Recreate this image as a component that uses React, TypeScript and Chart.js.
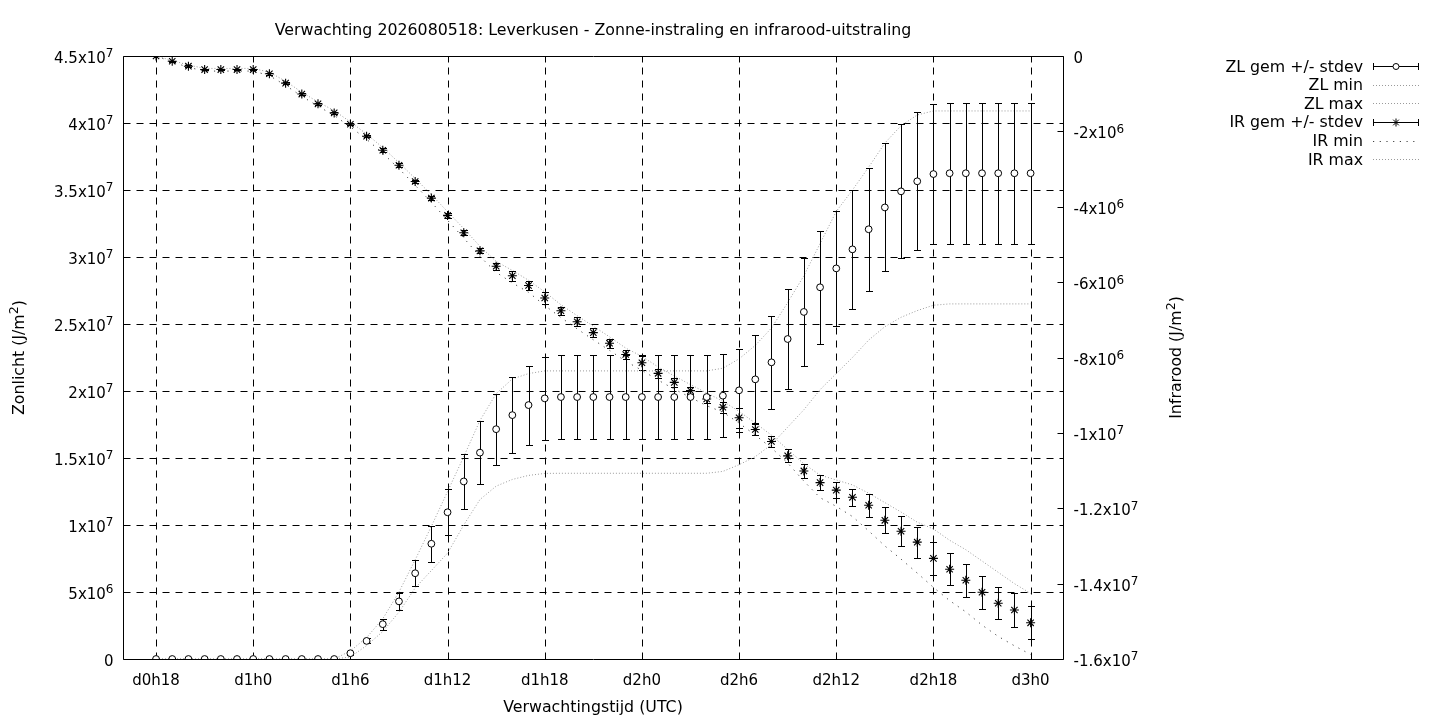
import React, { useEffect, useRef } from 'react';
import { Chart, registerables } from 'chart.js';

Chart.register(...registerables);

// Hours after d0h18 (one forecast step per hour)
const hours = Array.from({ length: 55 }, (_, i) => i);

const xTickValues = [0, 6, 12, 18, 24, 30, 36, 42, 48, 54];
const xTickLabels = ['d0h18', 'd1h0', 'd1h6', 'd1h12', 'd1h18', 'd2h0', 'd2h6', 'd2h12', 'd2h18', 'd3h0'];

// Left axis in units of 10^6 J/m²
const yTickValues = [0, 5, 10, 15, 20, 25, 30, 35, 40, 45];
const yTickLabels = ['0', '5x10⁶', '1x10⁷', '1.5x10⁷', '2x10⁷', '2.5x10⁷', '3x10⁷', '3.5x10⁷', '4x10⁷', '4.5x10⁷'];

// Right axis in units of 10^6 J/m²
const y2TickValues = [0, -2, -4, -6, -8, -10, -12, -14, -16];
const y2TickLabels = ['0', '-2x10⁶', '-4x10⁶', '-6x10⁶', '-8x10⁶', '-1x10⁷', '-1.2x10⁷', '-1.4x10⁷', '-1.6x10⁷'];

// Zonlicht (10^6 J/m²)
const zlMean = [
  0, 0, 0, 0, 0, 0, 0, 0, 0, 0, 0, 0,
  0.43, 1.35, 2.6, 4.3, 6.4, 8.6, 10.95, 13.25, 15.4, 17.15, 18.2, 18.95, 19.45,
  19.55, 19.55, 19.55, 19.55, 19.55, 19.55, 19.55, 19.55, 19.55, 19.55,
  19.65, 20.05, 20.87, 22.14, 23.88, 25.9, 27.74, 29.15, 30.57, 32.07, 33.7, 34.9, 35.65, 36.19,
  36.25, 36.25, 36.25, 36.25, 36.25, 36.25,
];
const zlStdev = [
  0, 0, 0, 0, 0, 0, 0, 0, 0, 0, 0, 0,
  0.1, 0.18, 0.4, 0.65, 0.97, 1.33, 1.72, 2.05, 2.34, 2.65, 2.84, 2.95, 3.08,
  3.1, 3.1, 3.1, 3.1, 3.1, 3.1, 3.1, 3.1, 3.1, 3.1,
  3.08, 3.12, 3.28, 3.48, 3.73, 4.03, 4.2, 4.3, 4.45, 4.6, 4.78, 5.0, 5.16, 5.22,
  5.25, 5.25, 5.25, 5.25, 5.25, 5.25,
];
const zlMin = [
  0, 0, 0, 0, 0, 0, 0, 0, 0, 0, 0, 0,
  0.15, 1.0, 2.05, 3.5, 5.3, 6.6, 7.9, 10.0, 11.9, 12.9, 13.4, 13.7, 13.85,
  13.86, 13.86, 13.86, 13.86, 13.86, 13.86, 13.86, 13.86, 13.86, 13.86,
  14.0, 14.5, 15.1, 16.0, 17.3, 18.6, 20.1, 21.3, 22.5, 23.8, 24.8, 25.5, 26.0, 26.4,
  26.5, 26.5, 26.5, 26.5, 26.5, 26.5,
];
const zlMax = [
  0, 0, 0, 0, 0, 0, 0, 0, 0, 0, 0, 0,
  0.6, 1.6, 3.0, 5.0, 7.4, 9.9, 12.5, 15.1, 17.8, 19.8, 20.9, 21.3, 21.5,
  21.5, 21.5, 21.5, 21.5, 21.5, 21.5, 21.5, 21.5, 21.5, 21.5,
  21.7, 22.4, 23.4, 24.7, 26.6, 28.6, 31.0, 33.4, 35.0, 36.7, 38.5, 39.8, 40.6, 40.9,
  40.9, 40.9, 40.9, 40.9, 40.9, 40.9,
];

// Infrarood (10^6 J/m²)
const irMean = [
  0, -0.14, -0.27, -0.36, -0.36, -0.36, -0.36, -0.47, -0.72, -1.01,
  -1.27, -1.51, -1.81, -2.13, -2.5, -2.9, -3.33, -3.77, -4.23, -4.69,
  -5.17, -5.58, -5.83, -6.09, -6.42, -6.76, -7.05, -7.34, -7.62, -7.92,
  -8.14, -8.42, -8.66, -8.88, -9.1, -9.32, -9.6, -9.91, -10.23, -10.61,
  -11.01, -11.32, -11.52, -11.71, -11.92, -12.32, -12.61, -12.9, -13.33, -13.62,
  -13.91, -14.23, -14.52, -14.7, -15.04,
];
const irStdev = [
  0, 0.02, 0.02, 0.02, 0.02, 0.02, 0.02, 0.03, 0.03, 0.03,
  0.03, 0.03, 0.03, 0.03, 0.05, 0.05, 0.05, 0.05, 0.07, 0.07,
  0.07, 0.1, 0.13, 0.11, 0.15, 0.11, 0.12, 0.12, 0.12, 0.12,
  0.18, 0.12, 0.12, 0.1, 0.11, 0.15, 0.27, 0.15, 0.15, 0.17,
  0.19, 0.19, 0.22, 0.23, 0.3, 0.34, 0.4, 0.41, 0.43, 0.42,
  0.44, 0.44, 0.43, 0.44, 0.44,
];
const irMin = [
  0, -0.16, -0.3, -0.4, -0.4, -0.4, -0.4, -0.52, -0.78, -1.07,
  -1.33, -1.58, -1.88, -2.21, -2.58, -2.99, -3.43, -3.88, -4.36, -4.83,
  -5.32, -5.74, -6.02, -6.27, -6.62, -6.94, -7.24, -7.53, -7.81, -8.1,
  -8.34, -8.6, -8.84, -9.06, -9.28, -9.45, -9.74, -10.06, -10.4, -10.8,
  -11.28, -11.72, -11.95, -12.22, -12.6, -13.0, -13.35, -13.72, -14.1, -14.45,
  -14.75, -15.1, -15.4, -15.65, -15.88,
];
const irMax = [
  0, -0.12, -0.24, -0.33, -0.33, -0.33, -0.33, -0.43, -0.67, -0.96,
  -1.22, -1.45, -1.75, -2.07, -2.43, -2.83, -3.25, -3.68, -4.13, -4.58,
  -5.05, -5.45, -5.69, -5.95, -6.26, -6.6, -6.89, -7.17, -7.45, -7.75,
  -7.97, -8.25, -8.49, -8.72, -8.94, -9.16, -9.43, -9.74, -10.06, -10.44,
  -10.82, -11.12, -11.25, -11.38, -11.6, -11.85, -12.1, -12.37, -12.55, -12.85,
  -13.1, -13.4, -13.7, -14.0, -14.26,
];

const TITLE = 'Verwachting 2026080518: Leverkusen - Zonne-instraling en infrarood-uitstraling';
const X_TITLE = 'Verwachtingstijd (UTC)';
const Y_TITLE = 'Zonlicht (J/m²)';
const Y2_TITLE = 'Infrarood (J/m²)';

const FAMILY = '"DejaVu Sans"';
const TICK_SIZE = 15;
const LABEL_SIZE = 15.8;
const LIGHT_DOT = '#9a9a9a';
const DARK_DOT = '#444444';
const LIGHT_DASH = [1, 2];
const DARK_DASH = [1.2, 5.5];

const SUP: Record<string, string> = {
  '⁰': '0', '¹': '1', '²': '2', '³': '3', '⁴': '4', '⁵': '5', '⁶': '6', '⁷': '7', '⁸': '8', '⁹': '9',
};

const toPoints = (vals: number[]) => hours.map((h, i) => ({ x: h, y: vals[i] }));

// Draw text with real superscripts (gnuplot enhanced-text look); y is the baseline.
function drawRich(ctx: CanvasRenderingContext2D, text: string, x: number, y: number, align: 'left' | 'right' | 'center', size: number) {
  const runs: { t: string; sup: boolean }[] = [];
  for (const ch of text) {
    const sup = ch in SUP;
    const c = sup ? SUP[ch] : ch;
    const last = runs[runs.length - 1];
    if (last && last.sup === sup) last.t += c;
    else runs.push({ t: c, sup });
  }
  const supSize = size * 0.8;
  const widths = runs.map((r) => {
    ctx.font = `${r.sup ? supSize : size}px ${FAMILY}`;
    return ctx.measureText(r.t).width;
  });
  const total = widths.reduce((a, b) => a + b, 0);
  let cx = align === 'right' ? x - total : align === 'center' ? x - total / 2 : x;
  ctx.textAlign = 'left';
  ctx.textBaseline = 'alphabetic';
  runs.forEach((r, i) => {
    ctx.font = `${r.sup ? supSize : size}px ${FAMILY}`;
    ctx.fillText(r.t, cx, r.sup ? y - size * 0.37 : y);
    cx += widths[i];
  });
}

const framePlugin = {
  id: 'gnuFrame',
  beforeDatasetsDraw(chart: any) {
    const { ctx, chartArea: a, scales } = chart;
    const L = Math.round(a.left) + 0.5;
    const R = Math.round(a.right) + 0.5;
    const T = Math.round(a.top) + 0.5;
    const B = Math.round(a.bottom) + 0.5;
    ctx.save();
    ctx.strokeStyle = '#000';
    ctx.lineWidth = 1;
    ctx.setLineDash([7, 6]);
    for (const v of xTickValues) {
      const px = Math.round(scales.x.getPixelForValue(v)) + 0.5;
      ctx.beginPath();
      ctx.moveTo(px, B);
      ctx.lineTo(px, T);
      ctx.stroke();
    }
    for (const v of yTickValues) {
      const py = Math.round(scales.y.getPixelForValue(v)) + 0.5;
      if (py <= T + 1 || py >= B - 1) continue;
      ctx.beginPath();
      ctx.moveTo(L, py);
      ctx.lineTo(R, py);
      ctx.stroke();
    }
    ctx.setLineDash([]);
    ctx.beginPath();
    ctx.rect(L, T, R - L, B - T);
    ctx.stroke();
    const tl = 6;
    ctx.beginPath();
    for (const v of xTickValues) {
      const px = Math.round(scales.x.getPixelForValue(v)) + 0.5;
      ctx.moveTo(px, B); ctx.lineTo(px, B - tl);
      ctx.moveTo(px, T); ctx.lineTo(px, T + tl);
    }
    for (const v of yTickValues) {
      const py = Math.round(scales.y.getPixelForValue(v)) + 0.5;
      ctx.moveTo(L, py); ctx.lineTo(L + tl, py);
    }
    for (const v of y2TickValues) {
      const py = Math.round(scales.y2.getPixelForValue(v)) + 0.5;
      ctx.moveTo(R, py); ctx.lineTo(R - tl, py);
    }
    ctx.stroke();
    ctx.restore();
  },
};

const errorBarPlugin = {
  id: 'gnuErrorBars',
  beforeDatasetDraw(chart: any, args: any) {
    const ds = chart.data.datasets[args.index];
    if (!ds.errors) return;
    const { ctx, chartArea: a } = chart;
    const xs = chart.scales.x;
    const ys = chart.scales[ds.yAxisID];
    ctx.save();
    ctx.beginPath();
    ctx.rect(a.left, a.top, a.right - a.left + 1, a.bottom - a.top + 1);
    ctx.clip();
    ctx.strokeStyle = '#000';
    ctx.lineWidth = 1;
    ctx.beginPath();
    ds.data.forEach((p: any, i: number) => {
      const e = ds.errors[i];
      if (!e) return;
      const px = Math.round(xs.getPixelForValue(p.x)) + 0.5;
      const top = Math.round(ys.getPixelForValue(p.y + e)) + 0.5;
      const bot = Math.round(ys.getPixelForValue(p.y - e)) + 0.5;
      ctx.moveTo(px, top); ctx.lineTo(px, bot);
      ctx.moveTo(px - 3.5, top); ctx.lineTo(px + 3.5, top);
      ctx.moveTo(px - 3.5, bot); ctx.lineTo(px + 3.5, bot);
    });
    ctx.stroke();
    ctx.restore();
  },
};

const textPlugin = {
  id: 'gnuTexts',
  afterDraw(chart: any) {
    const { ctx, chartArea: a, scales } = chart;
    const cx = (a.left + a.right) / 2;
    const cy = (a.top + a.bottom) / 2;
    ctx.save();
    ctx.fillStyle = '#000';

    // tick labels
    xTickValues.forEach((v, i) => {
      drawRich(ctx, xTickLabels[i], scales.x.getPixelForValue(v), 684.5, 'center', TICK_SIZE);
    });
    yTickValues.forEach((v, i) => {
      drawRich(ctx, yTickLabels[i], 113.5, scales.y.getPixelForValue(v) + 7, 'right', TICK_SIZE);
    });
    y2TickValues.forEach((v, i) => {
      drawRich(ctx, y2TickLabels[i], 1073.5, scales.y2.getPixelForValue(v) + 7, 'left', TICK_SIZE);
    });

    // titles
    drawRich(ctx, TITLE, cx, 34.5, 'center', LABEL_SIZE);
    drawRich(ctx, X_TITLE, cx, 711.5, 'center', LABEL_SIZE);
    ctx.save();
    ctx.translate(18.5, cy);
    ctx.rotate(-Math.PI / 2);
    drawRich(ctx, Y_TITLE, 0, 5.5, 'center', LABEL_SIZE);
    ctx.restore();
    ctx.save();
    ctx.translate(1175.5, cy);
    ctx.rotate(-Math.PI / 2);
    drawRich(ctx, Y2_TITLE, 0, 5.5, 'center', LABEL_SIZE);
    ctx.restore();

    // legend
    const textRight = 1363;
    const s0 = 1373;
    const s1 = 1419;
    const rowY = [66, 84.5, 103, 121.5, 140.5, 159];
    chart.data.datasets.forEach((ds: any, i: number) => {
      const y = rowY[i];
      ctx.fillStyle = '#000';
      drawRich(ctx, ds.label, textRight, y + 5.5, 'right', LABEL_SIZE);
      const yy = Math.round(y) + 0.5;
      if (ds.errors) {
        ctx.strokeStyle = '#000';
        ctx.lineWidth = 1;
        ctx.setLineDash([]);
        ctx.beginPath();
        ctx.moveTo(s0, yy); ctx.lineTo(s1, yy);
        ctx.moveTo(s0 + 0.5, yy - 3.5); ctx.lineTo(s0 + 0.5, yy + 3.5);
        ctx.moveTo(s1 - 0.5, yy - 3.5); ctx.lineTo(s1 - 0.5, yy + 3.5);
        ctx.stroke();
        const mx = (s0 + s1) / 2;
        if (ds.pointStyle === 'circle') {
          ctx.beginPath();
          ctx.arc(mx, yy, 3, 0, Math.PI * 2);
          ctx.fillStyle = '#fff';
          ctx.fill();
          ctx.stroke();
        } else {
          const r = 4;
          ctx.beginPath();
          ctx.moveTo(mx - r, yy); ctx.lineTo(mx + r, yy);
          ctx.moveTo(mx, yy - r); ctx.lineTo(mx, yy + r);
          const d = r * Math.SQRT1_2;
          ctx.moveTo(mx - d, yy - d); ctx.lineTo(mx + d, yy + d);
          ctx.moveTo(mx - d, yy + d); ctx.lineTo(mx + d, yy - d);
          ctx.stroke();
        }
      } else {
        ctx.strokeStyle = ds.borderColor;
        ctx.lineWidth = 1;
        ctx.setLineDash(ds.borderDash || []);
        ctx.beginPath();
        ctx.moveTo(s0, yy); ctx.lineTo(s1, yy);
        ctx.stroke();
        ctx.setLineDash([]);
      }
    });
    ctx.restore();
  },
};

export default function App() {
  const canvasRef = useRef<HTMLCanvasElement | null>(null);

  useEffect(() => {
    document.body.style.margin = '0';
    const canvas = canvasRef.current;
    if (!canvas) return;
    Chart.defaults.font.family = FAMILY;
    Chart.defaults.font.size = TICK_SIZE;
    Chart.defaults.color = '#000';

    const lineDs = (label: string, vals: number[], axis: string, color: string, dash: number[]) => ({
      label,
      data: toPoints(vals),
      yAxisID: axis,
      showLine: true,
      borderColor: color,
      borderWidth: 1,
      borderDash: dash,
      pointRadius: 0,
      pointHoverRadius: 0,
      tension: 0,
      fill: false,
    });

    const hiddenTicks = { display: false };

    const chart = new Chart(canvas, {
      type: 'line',
      data: {
        datasets: [
          {
            label: 'ZL gem +/- stdev',
            data: toPoints(zlMean),
            errors: zlStdev,
            yAxisID: 'y',
            showLine: false,
            pointStyle: 'circle',
            pointRadius: 3.4,
            pointBorderWidth: 1,
            pointBackgroundColor: '#ffffff',
            pointBorderColor: '#000000',
            borderColor: '#000000',
          } as any,
          lineDs('ZL min', zlMin, 'y', LIGHT_DOT, LIGHT_DASH),
          lineDs('ZL max', zlMax, 'y', LIGHT_DOT, LIGHT_DASH),
          {
            label: 'IR gem +/- stdev',
            data: toPoints(irMean),
            errors: irStdev,
            yAxisID: 'y2',
            showLine: false,
            pointStyle: 'star',
            pointRadius: 4.5,
            pointBorderWidth: 1.1,
            pointBackgroundColor: '#000000',
            pointBorderColor: '#000000',
            borderColor: '#000000',
          } as any,
          lineDs('IR min', irMin, 'y2', DARK_DOT, DARK_DASH),
          lineDs('IR max', irMax, 'y2', LIGHT_DOT, LIGHT_DASH),
        ],
      },
      options: {
        animation: false,
        responsive: false,
        devicePixelRatio: 1,
        events: [],
        layout: { padding: { top: 56, right: 247, bottom: 0, left: 0 } },
        plugins: {
          legend: { display: false },
          tooltip: { enabled: false },
          title: { display: false },
        },
        scales: {
          x: {
            type: 'linear',
            min: -2.04,
            max: 56,
            afterBuildTicks: (s: any) => { s.ticks = xTickValues.map((v) => ({ value: v })); },
            afterFit: (s: any) => { s.height = 61; },
            ticks: hiddenTicks,
            grid: { display: false, drawTicks: false },
            border: { display: false },
          },
          y: {
            type: 'linear',
            position: 'left',
            min: 0,
            max: 45,
            afterBuildTicks: (s: any) => { s.ticks = yTickValues.map((v) => ({ value: v })); },
            afterFit: (s: any) => { s.width = 123; },
            ticks: hiddenTicks,
            grid: { display: false, drawTicks: false },
            border: { display: false },
          },
          y2: {
            type: 'linear',
            position: 'right',
            min: -16,
            max: 0,
            afterBuildTicks: (s: any) => { s.ticks = y2TickValues.map((v) => ({ value: v })); },
            afterFit: (s: any) => { s.width = 130; },
            ticks: hiddenTicks,
            grid: { display: false, drawTicks: false },
            border: { display: false },
          },
        },
      } as any,
      plugins: [framePlugin, errorBarPlugin, textPlugin],
    });

    return () => chart.destroy();
  }, []);

  return (
    <div style={{ width: 1440, height: 720, background: '#fff' }}>
      <canvas ref={canvasRef} width={1440} height={720} style={{ display: 'block' }} />
    </div>
  );
}
